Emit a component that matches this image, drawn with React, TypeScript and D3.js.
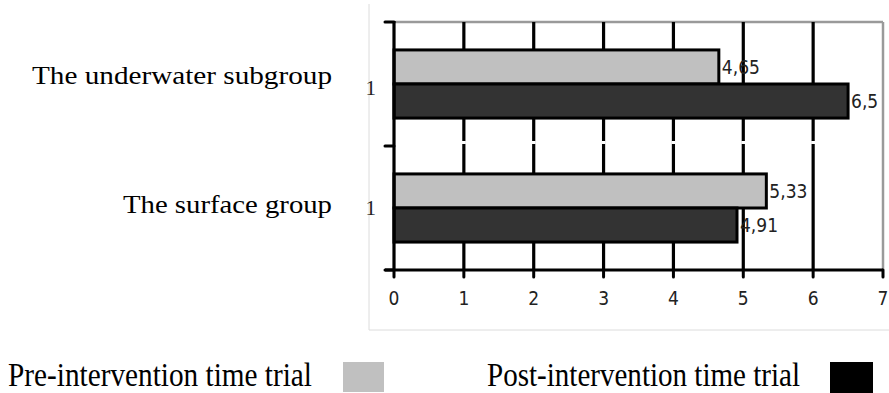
import React from "react";
import * as d3 from "d3";

const categories = ["The underwater subgroup", "The surface group"];
const categoryTickLabels = ["1", "1"];
const seriesNames = ["Pre-intervention time trial", "Post-intervention time trial"];
const preValues = [4.65, 5.33];
const postValues = [6.5, 4.91];
const xTickValues = [0, 1, 2, 3, 4, 5, 6, 7];

const W = 889;
const H = 393;
const plot = { left: 394, right: 883, top: 22, bottom: 270 };
const barFill = ["#c0c0c0", "#333333"];
const legendFill = ["#c0c0c0", "#000000"];
const categoryNameWidth = [300, 209];

const fmt = (v: number) => String(v).replace(".", ",");

export default function App() {
  const x = d3.scaleLinear().domain([0, 7]).range([plot.left, plot.right]);
  const y = d3.scaleBand<string>().domain(categories).range([plot.top, plot.bottom]).paddingInner(0).paddingOuter(0);
  const inner = d3.scaleBand<string>().domain(["pre", "post"]).range([0, y.bandwidth()]).paddingInner(0).paddingOuter(0.82);
  const series = [
    { key: "pre", values: preValues },
    { key: "post", values: postValues },
  ];
  const boundaries = [plot.top, ...categories.map((c) => (y(c) as number) + y.bandwidth())];
  const sans = "'DejaVu Sans Condensed', 'DejaVu Sans', sans-serif";
  const serif = "'Liberation Serif', 'Times New Roman', serif";

  return (
    <svg width={W} height={H} style={{ position: "absolute", left: 0, top: 0, background: "#fff" }}>
      {/* outer chart frame */}
      <line x1={369} x2={369} y1={4} y2={330} stroke="#dcdcdc" strokeWidth={1} />
      <line x1={369} x2={W} y1={330} y2={330} stroke="#dcdcdc" strokeWidth={1} />

      {/* plot border (gray) */}
      <line x1={plot.left} x2={plot.right} y1={plot.top} y2={plot.top} stroke="#9a9a9a" strokeWidth={2.5} />
      <line x1={plot.right} x2={plot.right} y1={plot.top} y2={plot.bottom} stroke="#9a9a9a" strokeWidth={2.5} />

      {/* gridlines */}
      {xTickValues.slice(1, -1).map((t) => (
        <line key={"g" + t} x1={x(t)} x2={x(t)} y1={plot.top} y2={plot.bottom} stroke="#000" strokeWidth={3.2} />
      ))}
      {boundaries.slice(1, -1).map((b, i) =>
        xTickValues.slice(1, -1).map((t) => (
          <rect key={"br" + i + t} x={x(t) - 2} y={b - 5} width={4} height={3} fill="#fff" />
        ))
      )}

      {/* bars */}
      {series.map((s, si) =>
        categories.map((c, ci) => {
          const y0 = (y(c) as number) + (inner(s.key) as number);
          const bw = inner.bandwidth();
          return (
            <g key={s.key + c}>
              <rect
                x={x(0)}
                y={y0}
                width={x(s.values[ci]) - x(0)}
                height={bw}
                fill={barFill[si]}
                stroke="#000"
                strokeWidth={3}
              />
              <text
                x={x(s.values[ci]) + 3}
                y={y0 + bw / 2}
                dy="0.35em"
                fontFamily={sans}
                fontSize={19}
                fill="#222"
              >
                {fmt(s.values[ci])}
              </text>
            </g>
          );
        })
      )}

      {/* left axis */}
      <line x1={plot.left} x2={plot.left} y1={plot.top - 1} y2={plot.bottom + 1} stroke="#000" strokeWidth={3.2} />
      {boundaries.map((b, i) => (
        <line key={"lt" + i} x1={plot.left - 9} x2={plot.left} y1={b} y2={b} stroke="#000" strokeWidth={3} strokeLinecap="round" />
      ))}
      {categories.map((c, i) => (
        <text
          key={"cl" + c}
          x={376}
          y={(y(c) as number) + y.bandwidth() / 2 + (i === 0 ? 4 : 0)}
          dy="0.35em"
          textAnchor="end"
          fontFamily={serif}
          fontSize={21}
          fill="#222"
        >
          {categoryTickLabels[i]}
        </text>
      ))}

      {/* bottom axis */}
      <line x1={plot.left - 9} x2={plot.right} y1={plot.bottom} y2={plot.bottom} stroke="#000" strokeWidth={3.2} />
      {xTickValues.map((t) => (
        <g key={"xt" + t}>
          <line x1={x(t)} x2={x(t)} y1={plot.bottom} y2={plot.bottom + 7} stroke="#000" strokeWidth={3} strokeLinecap="round" />
          <text x={x(t)} y={298} dy="0.35em" textAnchor="middle" fontFamily={sans} fontSize={19} fill="#222">
            {t}
          </text>
        </g>
      ))}

      {/* category names */}
      {categories.map((c, i) => (
        <text
          key={"cn" + c}
          x={332 - categoryNameWidth[i]}
          y={(y(c) as number) + y.bandwidth() / 2 + (i === 0 ? 0 : 5)}
          fontFamily={serif}
          fontSize={25}
          textLength={categoryNameWidth[i]}
          lengthAdjust="spacingAndGlyphs"
          fill="#000"
        >
          {c}
        </text>
      ))}

      {/* legend */}
      <text x={8} y={386} fontFamily={serif} fontSize={33} textLength={304} lengthAdjust="spacingAndGlyphs" fill="#000">
        {seriesNames[0]}
      </text>
      <rect x={343} y={362} width={41} height={30} fill={legendFill[0]} />
      <text x={487} y={386} fontFamily={serif} fontSize={33} textLength={313} lengthAdjust="spacingAndGlyphs" fill="#000">
        {seriesNames[1]}
      </text>
      <rect x={830} y={362} width={43} height={31} fill={legendFill[1]} />
    </svg>
  );
}
